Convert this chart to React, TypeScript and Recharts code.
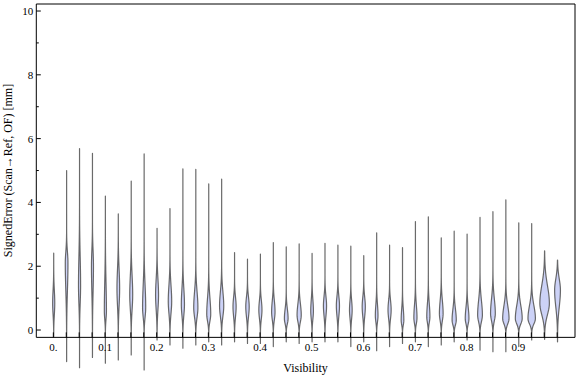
import { ComposedChart, Bar, XAxis, YAxis, ReferenceLine, ReferenceDot } from 'recharts';

// one violin every 0.025 of visibility
const visibility = [
  0, 0.025, 0.05, 0.075, 0.1, 0.125, 0.15, 0.175, 0.2, 0.225,
  0.25, 0.275, 0.3, 0.325, 0.35, 0.375, 0.4, 0.425, 0.45, 0.475,
  0.5, 0.525, 0.55, 0.575, 0.6, 0.625, 0.65, 0.675, 0.7, 0.725,
  0.75, 0.775, 0.8, 0.825, 0.85, 0.875, 0.9, 0.925, 0.95, 0.975,
];

// max / min of signed error per bin [mm]
const errMax = [
  2.41, 5.0, 5.69, 5.54, 4.2, 3.64, 4.67, 5.52, 3.19, 3.81,
  5.05, 5.04, 4.58, 4.73, 2.43, 2.22, 2.38, 2.74, 2.61, 2.7,
  2.4, 2.72, 2.66, 2.63, 2.33, 3.05, 2.66, 2.58, 3.4, 3.55,
  2.89, 3.1, 3.01, 3.53, 3.71, 4.08, 3.36, 3.34, 2.48, 2.19,
];
const errMin = [
  -0.2, -0.99, -1.18, -0.86, -1.04, -0.94, -0.78, -1.25, -0.31, -0.47,
  -0.57, -0.47, -0.37, -0.47, -0.37, -0.42, -0.42, -0.52, -0.37, -0.42,
  -0.37, -0.37, -0.37, -0.52, -0.37, -0.65, -0.52, -0.42, -0.37, -0.52,
  -0.47, -0.37, -0.31, -0.63, -0.68, -0.68, -0.52, -0.31, -0.29, -0.37,
];

// density peak location, relative peak density, spread above the peak
const errMode = [
  0.84, 2.1, 1.4, 2.0, 0.6, 1.3, 1.1, 0.7, 1.1, 0.9,
  0.8, 0.7, 0.5, 0.75, 0.73, 0.73, 0.63, 0.57, 0.36, 0.47,
  0.6, 0.76, 0.76, 0.63, 0.73, 0.45, 0.63, 0.31, 0.38, 0.42,
  0.52, 0.31, 0.36, 0.47, 0.52, 0.36, 0.36, 0.36, 0.84, 1.25,
];
const peakDensity = [
  0.22, 0.28, 0.22, 0.21, 0.22, 0.28, 0.31, 0.33, 0.31, 0.36,
  0.33, 0.44, 0.42, 0.44, 0.33, 0.36, 0.33, 0.36, 0.39, 0.44,
  0.28, 0.33, 0.33, 0.28, 0.33, 0.28, 0.33, 0.28, 0.33, 0.33,
  0.39, 0.44, 0.39, 0.5, 0.5, 0.67, 0.72, 0.78, 1.0, 0.61,
];
const upperSpread = [
  0.4, 0.35, 0.9, 0.5, 0.9, 0.6, 0.6, 0.7, 0.5, 0.5,
  0.5, 0.5, 0.5, 0.45, 0.3, 0.3, 0.3, 0.35, 0.3, 0.35,
  0.35, 0.3, 0.3, 0.3, 0.3, 0.35, 0.3, 0.35, 0.4, 0.4,
  0.4, 0.35, 0.35, 0.45, 0.45, 0.4, 0.4, 0.4, 0.55, 0.35,
];

const xTickValues = [0, 0.1, 0.2, 0.3, 0.4, 0.5, 0.6, 0.7, 0.8, 0.9];
const xTickLabels = ['0.', '0.1', '0.2', '0.3', '0.4', '0.5', '0.6', '0.7', '0.8', '0.9'];
const yTicks = [
  0, 0.5, 1, 1.5, 2, 2.5, 3, 3.5, 4, 4.5, 5, 5.5, 6, 6.5, 7, 7.5, 8, 8.5, 9, 9.5, 10,
];

const X_MIN = -0.033;
const X_MAX = 1.0095;
const Y_MIN = -1.3;
const Y_MAX = 10.22;
const FRAME_BOTTOM = -0.23;
const PX_PER_DENSITY = 9.5;
const FONT = '"Liberation Serif", "Times New Roman", serif';

const data = visibility.map((v, i) => ({
  x: v,
  range: [errMin[i], errMax[i]],
  mode: errMode[i],
  peak: peakDensity[i],
  spread: upperSpread[i],
}));

function Violin(props: any) {
  const { x, y, width, height, payload } = props;
  if (!payload) return null;
  const cx = x + width / 2;
  const top = Math.min(y, y + height);
  const h = Math.abs(height);
  const [lo, hi] = payload.range;
  const toPx = (v: number) => top + (h * (hi - v)) / (hi - lo);
  const below = Math.max(0.15, (payload.mode + 0.05) / 2.5);
  const halfAt = (v: number) => {
    const s = v > payload.mode ? payload.spread : below;
    const z = (v - payload.mode) / s;
    return ((payload.peak * PX_PER_DENSITY) / 2) * Math.exp(-0.5 * z * z);
  };
  const steps = 160;
  const right: string[] = [];
  const left: string[] = [];
  for (let k = 0; k <= steps; k++) {
    const v = hi - (k * (hi - lo)) / steps;
    const w = halfAt(v);
    right.push(`${(cx + w).toFixed(2)},${toPx(v).toFixed(2)}`);
    left.unshift(`${(cx - w).toFixed(2)},${toPx(v).toFixed(2)}`);
  }
  const d = `M${right.join('L')}L${left.join('L')}Z`;
  return (
    <path
      d={d}
      fill="#ccd2f7"
      stroke="#505050"
      strokeWidth={1.2}
      strokeOpacity={0.85}
      strokeLinejoin="round"
    />
  );
}

function LeftTick({ x, y, payload }: any) {
  const v = payload.value;
  const major = v % 2 === 0;
  return (
    <g>
      <line x1={x} x2={x + (major ? 4.5 : 2.5)} y1={y} y2={y} stroke="#000" />
      {major && (
        <text x={x - 3} y={y} dy={4} textAnchor="end" fontSize={11} fontFamily={FONT} fill="#000">
          {v}
        </text>
      )}
    </g>
  );
}

function RightTick({ x, y, payload }: any) {
  const major = payload.value % 2 === 0;
  return <line x1={x} x2={x - (major ? 4.5 : 2.5)} y1={y} y2={y} stroke="#000" />;
}

function TopTick({ x, y }: any) {
  return <line x1={x} x2={x} y1={y} y2={y + 4.5} stroke="#000" />;
}

function BottomTick({ cx, cy }: any) {
  return <line x1={cx} x2={cx} y1={cy} y2={cy - 5} stroke="#000" />;
}

export default function App() {
  return (
    <div style={{ position: 'absolute', left: 0, top: 0 }}>
      <ComposedChart
        width={576}
        height={377}
        data={data}
        margin={{ top: 4, right: 1, bottom: 5.5, left: 0 }}
      >
        <XAxis
          dataKey="x"
          type="number"
          domain={[X_MIN, X_MAX]}
          ticks={xTickValues}
          hide
        />
        <XAxis
          xAxisId="top"
          orientation="top"
          type="number"
          domain={[X_MIN, X_MAX]}
          ticks={visibility}
          height={0}
          tickSize={0}
          tickMargin={0}
          axisLine={false}
          tickLine={false}
          tick={<TopTick />}
        />
        <YAxis
          type="number"
          domain={[Y_MIN, Y_MAX]}
          ticks={yTicks}
          width={36.3}
          tickSize={0}
          tickMargin={0}
          axisLine={false}
          tickLine={false}
          tick={<LeftTick />}
        />
        <YAxis
          yAxisId="r"
          orientation="right"
          type="number"
          domain={[Y_MIN, Y_MAX]}
          ticks={yTicks}
          width={0}
          tickSize={0}
          tickMargin={0}
          axisLine={false}
          tickLine={false}
          tick={<RightTick />}
        />
        <ReferenceLine y={Y_MAX} stroke="#000" strokeWidth={1} />
        <ReferenceLine y={FRAME_BOTTOM} stroke="#000" strokeWidth={1} />
        <ReferenceLine
          segment={[{ x: X_MIN, y: FRAME_BOTTOM }, { x: X_MIN, y: Y_MAX }]}
          stroke="#000"
          strokeWidth={1}
        />
        <ReferenceLine
          segment={[{ x: X_MAX, y: FRAME_BOTTOM }, { x: X_MAX, y: Y_MAX }]}
          stroke="#000"
          strokeWidth={1}
        />
        <Bar
          dataKey="range"
          barSize={14}
          shape={(p: any) => <Violin {...p} />}
          isAnimationActive={false}
        />
        {visibility.map((v) => (
          <ReferenceDot
            key={`bt-${v}`}
            x={v}
            y={FRAME_BOTTOM}
            r={0}
            shape={(p: any) => <BottomTick {...p} />}
          />
        ))}
        {xTickValues.map((v, i) => (
          <ReferenceDot
            key={`bl-${v}`}
            x={v}
            y={FRAME_BOTTOM}
            r={0}
            shape={(p: any) => (
              <text
                x={p.cx}
                y={p.cy + 14}
                textAnchor="middle"
                fontSize={11}
                fontFamily={FONT}
                fill="#000"
              >
                {xTickLabels[i]}
              </text>
            )}
          />
        ))}
        <text x={305.5} y={372} textAnchor="middle" fontSize={12} fontFamily={FONT} fill="#000">
          Visibility
        </text>
        <text
          x={12}
          y={170.5}
          transform="rotate(-90, 12, 170.5)"
          textAnchor="middle"
          fontSize={12}
          fontFamily={FONT}
          fill="#000"
        >
          SignedError (Scan→Ref, OF) [mm]
        </text>
      </ComposedChart>
    </div>
  );
}
